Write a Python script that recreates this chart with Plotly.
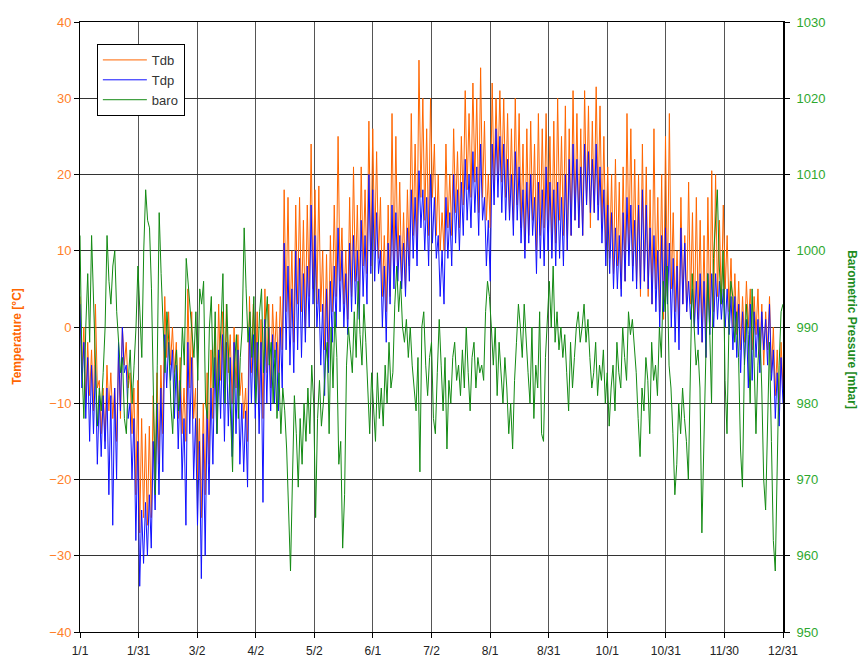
import plotly.graph_objects as go

# ---- data ----
tick_labels = ["1/1", "1/31", "3/2", "4/2", "5/2", "6/1", "7/2", "8/1",
               "8/31", "10/1", "10/31", "11/30", "12/31"]

# dry-bulb temperature, 2-day blocks: high and low [degC]
tdb_hi = [4, 0, -2, -3, 3, -7, -8, -5, -6, -8,
          -4, 0, -2, -6, -8, -7, -12, -14, -13, -9,
          -6, -5, 4, 2, 0, -2, -4, -8, 5, 2,
          -8, -12, -10, -6, -3, 0, 3, 2, 3, -1,
          0, -1, -6, -8, 4, 3, 2, 1, 5, 3,
          3, 2, 4, 18, 17, 10, 16, 17, 14, 16,
          24, 18, 18.5, 10, 9.5, 12, 16, 25, 13, 10,
          17, 21, 16, 21, 18, 27, 26, 23, 17, 12,
          16, 28, 25, 19, 15, 18, 28, 24, 35, 30,
          26, 30, 24, 20, 15, 24, 20, 26, 23, 25,
          31, 28, 32, 30, 34, 27, 20, 32, 30, 31,
          30, 28, 26, 30, 28, 24, 26, 27, 24, 28,
          26, 28, 25, 27, 30, 25, 29, 26, 31, 28,
          26, 31, 29, 27, 31.5, 29, 25, 21, 20, 22,
          19, 21, 28, 26, 22, 20, 24, 21, 18, 26,
          17, 20, 25, 28, 15, 10, 17, 12, 19, 15,
          17, 14, 12, 17, 20.5, 20, 14, 16, 12, 9,
          7, 6, 4, 6, 5, 4, 5, 3, 2, 4,
          0, -3, -2]
tdb_lo = [-6, -10, -9, -11, -8, -14, -15, -11, -12, -15,
          -12, -5, -8, -14, -22, -27, -25, -26, -25, -20,
          -18, -14, -4, -5, -6, -12, -14, -15, -8, -12,
          -20, -25, -22, -18, -12, -10, -7, -8, -6, -10,
          -8, -9, -12, -15, -6, -8, -10, -12, -6, -8,
          -4, -6, -3, 2, 0, -2, 3, 2, 0, 4,
          5, 3, 2, -3, -4, 2, 4, 6, 3, 1,
          4, 6, 3, 8, 7, 8, 10, 9, 4, 2,
          4, 8, 8, 6, 5, 8, 12, 10, 17, 14,
          12, 17, 12, 10, 10, 13, 12, 15, 13, 16,
          18, 17, 19, 15, 17, 14, 13, 18, 20, 19,
          17, 15, 14, 16, 13, 10, 12, 14, 10, 12,
          13, 14, 10, 11, 14, 12, 10, 12, 14, 13,
          12, 16, 13, 15, 16, 13, 10, 9, 7, 8,
          5, 6, 10, 8, 6, 4, 6, 4, 3, 5,
          2, 1, 4, 5, 2, 0, 3, 2, 3, 0,
          1, -2, -4, 0, 2, 4, 3, 5, 2, 0,
          -1, -3, -2, 0, -3, -1, -4, -5, -3, -6,
          -9, -11, -8]

# dew-point temperature, 2-day blocks: high and low [degC]
tdp_hi = [3, -2, -4, -5, -5, -9, -9, -8, -9, -8,
          -2, 0, -5, -10, -12, -15, -24, -23, -22, -15,
          -10, -8, -1, -2, -3, -5, -7, -12, -2, -4,
          -12, -15, -14, -11, -8, -4, -3, -1, -2, -4,
          -2, -3, -10, -11, 0, -1, -2, -2, 1, 0,
          -1, -2, 0, 11, 8, 5, 10, 9, 7, 8,
          16, 12, 5, 3, 5, 6, 8, 13, 10, 7,
          11, 12, 10, 14, 12, 20, 18, 15, 10, 8,
          11, 16, 15, 12, 11, 13, 18, 17, 20.5, 18,
          17, 20, 17, 12, 10, 17, 15, 20, 18, 19,
          22, 20, 23, 21, 24, 17, 14, 24, 26, 25,
          24, 22, 20, 23, 21, 18, 19, 20, 17, 19,
          18, 21, 19, 18, 19, 17, 20, 22, 24, 22,
          21, 24, 23, 22, 24, 21, 18, 16, 15, 13,
          12, 15, 17, 16, 14, 16, 18, 16, 13, 12,
          10, 12, 13, 11, 9, 8, 13, 11, 6, 5,
          6, 7, 6, 7, 7, 7, 6, 5, 5, 4,
          4, 3, 2, 1, 3, 2, 1, 2, 1, 3,
          -3, -6, -4]
tdp_lo = [-8, -12, -15, -14, -18, -17, -16, -22, -26, -20,
          -11, -6, -12, -20, -28, -34, -31, -30, -29, -24,
          -22, -19, -8, -7, -12, -16, -20, -26, -14, -20,
          -26, -33, -30, -22, -18, -14, -12, -15, -13, -17,
          -14, -18, -19, -21, -10, -12, -14, -23, -10, -11,
          -10, -11, -8, -3, -5, -6, -3, -4, -2, 0,
          3, 0, -5, -9, -6, -2, 0, 2, 0, -1,
          2, 3, 1, 4, 3, 7, 6, 7, 0, -2,
          3, 5, 6, 5, 4, 6, 9, 8, 13, 10,
          8, 11, 9, 4, 3, 9, 8, 11, 10, 12,
          14, 13, 15, 12, 14, 8, 6, 16, 17, 15,
          14, 14, 12, 14, 11, 9, 11, 12, 7, 9,
          8, 10, 9, 8, 9, 8, 10, 12, 14, 13,
          12, 16, 15, 15, 14, 11, 8, 7, 5, 5,
          4, 6, 8, 6, 5, 5, 6, 5, 3, 2,
          0, 2, 3, 0, -2, -3, 3, 2, 1, 0,
          -1, -2, -4, -1, 0, 1, 1, 0, -1, -3,
          -4, -6, -5, -8, -7, -4, -6, -3, -5, -7,
          -12, -13, -10]

# barometric pressure, daily [mbar]
baro = [1002, 985, 978, 990, 997, 988, 1002, 994, 985, 977, 982, 979, 984, 990, 1002, 996, 993, 998, 1000, 992,
        988, 984, 986, 978, 976, 983, 987, 980, 985, 990, 998, 992, 986, 1000, 1008, 1004, 1003, 995, 980, 968,
        985, 1005, 997, 990, 984, 992, 988, 980, 976, 984, 987, 979, 982, 990, 985, 999, 996, 993, 990, 986,
        992, 983, 995, 993, 996, 980, 978, 990, 994, 982, 992, 976, 985, 990, 997, 980, 993, 985, 980, 971,
        985, 989, 978, 986, 990, 1003, 995, 988, 992, 986, 994, 980, 985, 992, 995, 984, 990, 994, 985, 988,
        980, 987, 978, 984, 976, 982, 979, 974, 966, 958, 970, 981, 976, 969, 978, 972, 980, 975, 982, 976,
        985, 980, 965, 978, 983, 977, 980, 985, 988, 976, 990, 982, 992, 986, 972, 975, 961, 968, 985, 990,
        987, 984, 992, 986, 996, 989, 985, 993, 988, 982, 976, 984, 980, 975, 984, 978, 982, 977, 985, 980,
        988, 982, 984, 993, 998, 992, 996, 990, 988, 991, 986, 990, 985, 982, 979, 986, 971, 990, 992, 985,
        981, 986, 988, 978, 976, 984, 991, 985, 979, 986, 974, 983, 980, 986, 988, 983, 985, 981, 987, 982,
        990, 984, 979, 986, 988, 982, 986, 984, 985, 983, 992, 996, 994, 990, 985, 990, 981, 988, 984, 980,
        986, 982, 976, 980, 974, 983, 988, 993, 990, 986, 993, 988, 984, 980, 990, 978, 985, 982, 992, 976,
        975, 986, 992, 996, 990, 998, 988, 992, 987, 990, 986, 989, 984, 979, 988, 982, 986, 990, 992, 988,
        990, 993, 988, 991, 986, 982, 984, 988, 981, 985, 983, 987, 980, 984, 977, 982, 985, 979, 988, 984,
        982, 990, 986, 983, 992, 989, 991, 988, 984, 978, 973, 982, 979, 986, 983, 976, 988, 983, 985, 981,
        990, 986, 996, 992, 998, 985, 982, 976, 968, 972, 980, 976, 982, 978, 975, 970, 985, 997, 990, 985,
        987, 982, 963, 975, 988, 997, 990, 980, 999, 1004, 1008, 998, 993, 1000, 983, 976, 990, 996, 994, 988,
        992, 986, 974, 969, 985, 993, 989, 980, 995, 986, 976, 985, 990, 982, 970, 966, 978, 988, 975, 962,
        958, 972, 985, 992, 993]


def interleave(hi, lo):
    out = []
    for h, l in zip(hi, lo):
        out += [h, l]
    return out


tdb = interleave(tdb_hi, tdb_lo)
tdp = interleave(tdp_hi, tdp_lo)
DAYS = 364
x_t = [i * DAYS / (len(tdb) - 1) for i in range(len(tdb))]
x_b = [i * DAYS / (len(baro) - 1) for i in range(len(baro))]
tickvals = [k * DAYS / 12 for k in range(len(tick_labels))]

FONT = "Liberation Sans, Arial, sans-serif"
ORANGE = "#FF6600"
BLUE = "#1010FF"
GREEN = "#138A13"

fig = go.Figure()
fig.add_trace(go.Scatter(x=x_t, y=tdb, name="Tdb", mode="lines",
                         line=dict(color=ORANGE, width=1)))
fig.add_trace(go.Scatter(x=x_t, y=tdp, name="Tdp", mode="lines",
                         line=dict(color=BLUE, width=1)))
fig.add_trace(go.Scatter(x=x_b, y=baro, name="baro", mode="lines", yaxis="y2",
                         line=dict(color=GREEN, width=1)))

fig.update_layout(
    width=868, height=665,
    margin=dict(l=72, r=93, t=14, b=41, autoexpand=False),
    paper_bgcolor="white", plot_bgcolor="white",
    font=dict(family=FONT, size=12, color="#222"),
    showlegend=True,
    legend=dict(x=0.024, y=0.964, xanchor="left", yanchor="top",
                bgcolor="white", bordercolor="black", borderwidth=1,
                font=dict(family=FONT, size=13, color="#333"),
                itemwidth=44, tracegroupgap=0),
    xaxis=dict(range=[0, DAYS], tickvals=tickvals, ticktext=tick_labels,
               showgrid=True, gridcolor="#555555", gridwidth=1,
               showline=True, linecolor="black", linewidth=1, mirror=True,
               ticks="outside", ticklen=5, tickcolor="black",
               ticklabelstandoff=3, automargin=False,
               tickfont=dict(family=FONT, size=12, color="#222"),
               zeroline=False),
    yaxis=dict(range=[-40, 40], dtick=10, tick0=0,
               showgrid=True, gridcolor="#333333", gridwidth=1,
               showline=True, linecolor="black", linewidth=1,
               ticks="outside", ticklen=5, tickcolor="black",
               automargin=False,
               tickfont=dict(family=FONT, size=13, color="#FF7F2A"),
               zeroline=False),
    yaxis2=dict(range=[950, 1030], dtick=10, tick0=950, overlaying="y", side="right",
                showgrid=False, showline=True, linecolor="black", linewidth=2,
                ticks="outside", ticklen=5, tickcolor="black",
                ticklabelstandoff=4, automargin=False,
                tickfont=dict(family=FONT, size=13, color="#2EA82E"),
                zeroline=False),
    annotations=[
        dict(text="<b>Temperature [°C]</b>", xref="paper", yref="paper",
             x=-0.0896, y=0.484, xanchor="center", yanchor="middle",
             textangle=-90, showarrow=False,
             font=dict(family=FONT, size=12, color=ORANGE)),
        dict(text="<b>Barometric Pressure [mbar]</b>", xref="paper", yref="paper",
             x=1.098, y=0.495, xanchor="center", yanchor="middle",
             textangle=90, showarrow=False,
             font=dict(family=FONT, size=12, color="#1E8C1E")),
    ],
)

fig.write_html("out.html")
